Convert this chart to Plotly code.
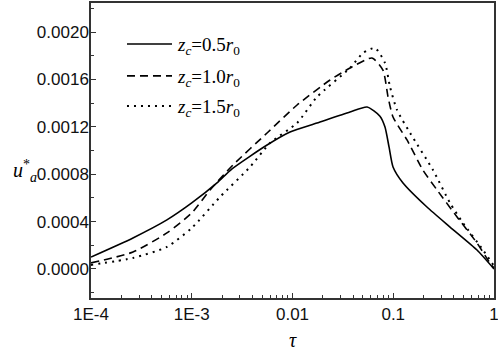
import plotly.graph_objects as go

# ---- data ----
tau_05 = [1e-4, 2.61e-4, 5.67e-4, 1.0e-3, 1.78e-3, 2.51e-3, 5.59e-3, 9.45e-3, 0.0175, 0.0372,
          0.055, 0.0738, 0.0828, 0.0908, 0.0995, 0.125, 0.216, 0.366, 0.678, 1.0]
u_05 = [1.01e-4, 2.62e-4, 4.14e-4, 5.57e-4, 7.26e-4, 8.45e-4, 1.046e-3, 1.156e-3, 1.232e-3, 1.325e-3,
        1.367e-3, 1.29e-3, 1.198e-3, 1.03e-3, 8.61e-4, 7.26e-4, 5.23e-4, 3.54e-4, 1.60e-4, 0.0]

tau_10 = [1e-4, 2.61e-4, 5.67e-4, 1.0e-3, 1.52e-3, 2.57e-3, 5.59e-3, 0.0111, 0.0236, 0.0372,
          0.0615, 0.079, 0.0888, 0.0995, 0.137, 0.197, 0.272, 0.430, 0.678, 0.871, 1.0]
u_10 = [5.1e-5, 1.43e-4, 3.04e-4, 4.73e-4, 6.67e-4, 8.78e-4, 1.148e-3, 1.384e-3, 1.595e-3, 1.696e-3,
        1.781e-3, 1.679e-3, 1.452e-3, 1.283e-3, 1.089e-3, 8.35e-4, 6.67e-4, 4.39e-4, 2.19e-4, 7.6e-5, 8e-6]

tau_15 = [1e-4, 2.61e-4, 5.67e-4, 1.0e-3, 1.91e-3, 3.79e-3, 5.98e-3, 0.0111, 0.0175, 0.0372,
          0.0501, 0.0659, 0.0828, 0.0929, 0.109, 0.147, 0.248, 0.366, 0.492, 0.778, 1.0]
u_15 = [3.4e-5, 9.3e-5, 1.86e-4, 3.46e-4, 6.08e-4, 8.61e-4, 1.063e-3, 1.232e-3, 1.452e-3, 1.696e-3,
        1.823e-3, 1.865e-3, 1.738e-3, 1.536e-3, 1.342e-3, 1.148e-3, 8.35e-4, 5.57e-4, 3.88e-4, 1.60e-4, 2.5e-5]

names = ["<i>z</i><sub><i>c</i></sub>=0.5<i>r</i><sub>0</sub>",
         "<i>z</i><sub><i>c</i></sub>=1.0<i>r</i><sub>0</sub>",
         "<i>z</i><sub><i>c</i></sub>=1.5<i>r</i><sub>0</sub>"]

x_tickvals = [1e-4, 1e-3, 0.01, 0.1, 1]
x_ticktext = ["1E-4", "1E-3", "0.01", "0.1", "1"]
y_tickvals = [0.0, 0.0004, 0.0008, 0.0012, 0.0016, 0.0020]
y_ticktext = ["0.0000", "0.0004", "0.0008", "0.0012", "0.0016", "0.0020"]

serif = "Liberation Serif, Times New Roman"

fig = go.Figure()
series = [(tau_05, u_05, "solid", 1.6), (tau_10, u_10, "8px,5px", 1.6), (tau_15, u_15, "2px,5px", 2)]
for i, (t, u, dash, w) in enumerate(series):
    fig.add_trace(go.Scatter(x=t, y=u, mode="lines", name=names[i], showlegend=False,
                             line=dict(color="black", width=w, dash=dash, shape="spline", smoothing=0.6)))

# legend drawn as key lines + labels (paper coordinates)
leg_y = [0.861, 0.753, 0.651]
for i, (t, u, dash, w) in enumerate(series):
    fig.add_shape(type="line", xref="paper", yref="paper", x0=0.0893, x1=0.201, y0=leg_y[i], y1=leg_y[i],
                  line=dict(color="black", width=w, dash=dash))
    fig.add_annotation(xref="paper", yref="paper", x=0.209, y=leg_y[i] - 0.008, xanchor="left", yanchor="middle",
                       text=names[i], showarrow=False, font=dict(family=serif, size=19, color="black"))

axis_common = dict(showline=True, linecolor="#333333", linewidth=1.5, mirror=True,
                   ticks="inside", ticklen=5, tickcolor="#333333", tickwidth=1,
                   showgrid=False, zeroline=False, automargin=False,
                   tickfont=dict(family="Liberation Sans, Arial", size=17, color="#111111"))

fig.update_layout(
    width=498, height=351,
    margin=dict(l=91, r=4, t=3, b=53),
    plot_bgcolor="white", paper_bgcolor="white",
    showlegend=False,
    xaxis=dict(type="log", range=[-4, 0], tickvals=x_tickvals, ticktext=x_ticktext,
               ticklabeloverflow="allow",
               minor=dict(ticks="inside", ticklen=3, tickcolor="#333333", dtick="D1", showgrid=False),
               title=dict(text="<i>τ</i>", font=dict(family=serif, size=20, color="black"), standoff=10),
               **axis_common),
    yaxis=dict(range=[-0.000245, 0.002245], tickvals=y_tickvals, ticktext=y_ticktext,
               minor=dict(ticks="inside", ticklen=3, tickcolor="#333333", dtick=0.0002, showgrid=False),
               ticklabelstandoff=-3,
               **axis_common),
)

fig.add_annotation(xref="paper", yref="paper", x=-0.1985, y=0.432, xanchor="left", yanchor="middle",
                   text="<i>u</i><sup>*</sup><sub><i>a</i></sub>", showarrow=False,
                   font=dict(family=serif, size=20, color="black"))

fig.write_html("out.html", config={"displayModeBar": False},
               post_script="document.body.style.margin='0';")
